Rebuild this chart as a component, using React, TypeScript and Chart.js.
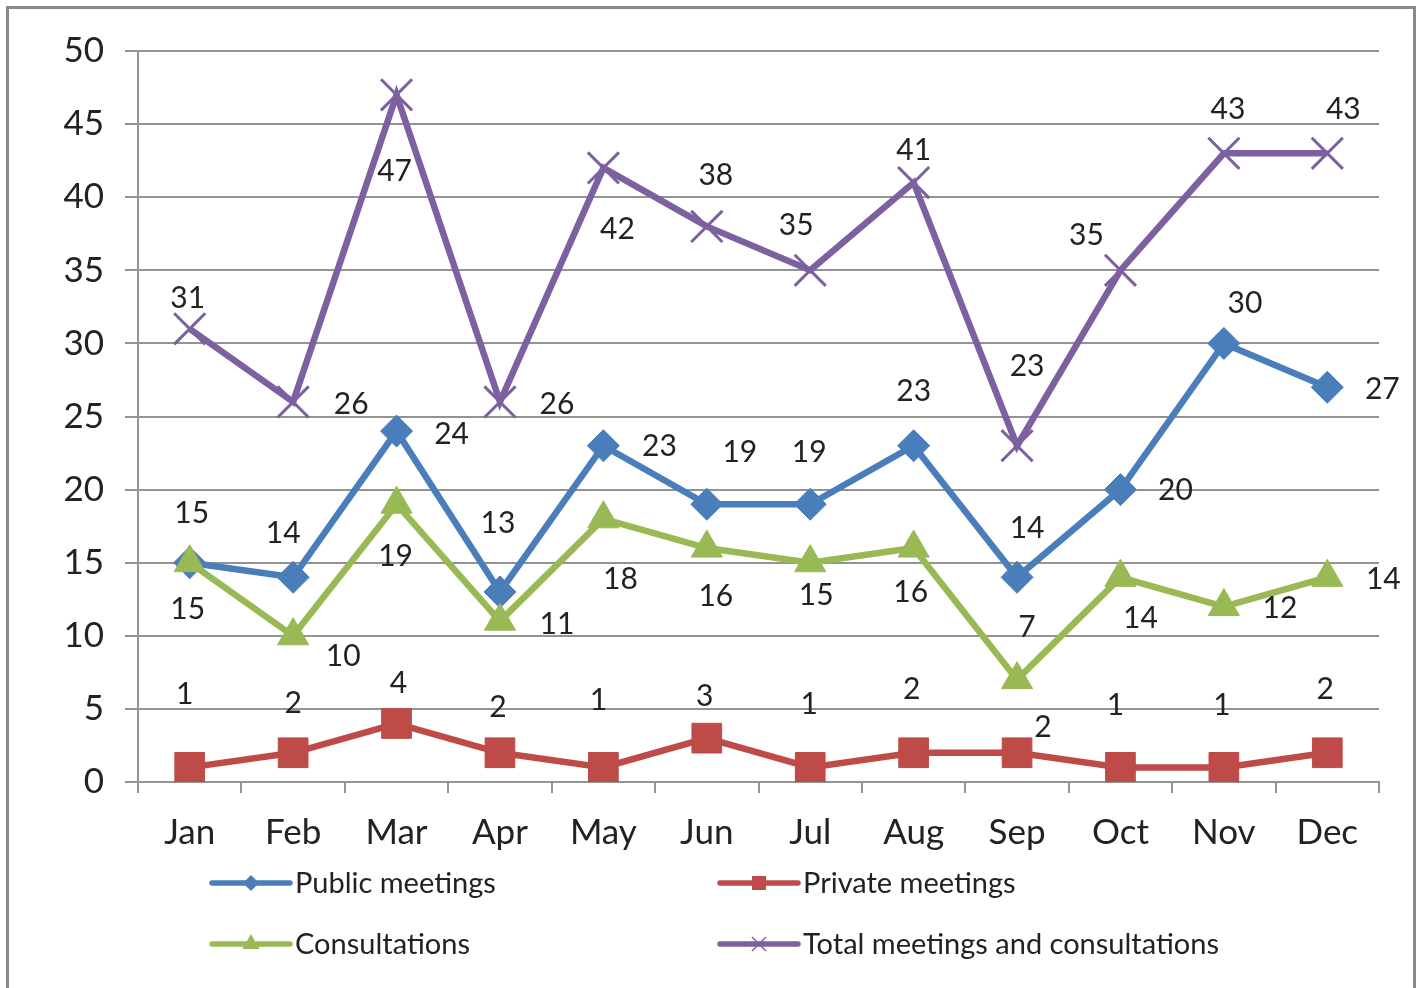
import React, { useEffect, useRef } from 'react';
import { Chart, registerables } from 'chart.js';

Chart.register(...registerables);

const months = ['Jan', 'Feb', 'Mar', 'Apr', 'May', 'Jun', 'Jul', 'Aug', 'Sep', 'Oct', 'Nov', 'Dec'];
const publicMeetings = [15, 14, 24, 13, 23, 19, 19, 23, 14, 20, 30, 27];
const privateMeetings = [1, 2, 4, 2, 1, 3, 1, 2, 2, 1, 1, 2];
const consultations = [15, 10, 19, 11, 18, 16, 15, 16, 7, 14, 12, 14];
const totals = [31, 26, 47, 26, 42, 38, 35, 41, 23, 35, 43, 43];

const seriesNames = ['Public meetings', 'Private meetings', 'Consultations', 'Total meetings and consultations'];
const seriesColors = ['#4A7EBB', '#BE4B48', '#98B954', '#7D60A0'];

// data-label placement relative to each point (pixels, dx / dy)
const publicLabelOffsets = [[2, -49], [-10, -44], [55, 3], [-2, -69], [56, 1], [33, -52], [-1, -52], [0, -54], [10, -49], [55, 1], [21, -40], [55, 2]];
const privateLabelOffsets = [[-5, -73], [0, -49], [2, -40], [-2, -45], [-5, -67], [-2, -42], [-1, -63], [-2, -63], [26, -25], [-5, -62], [-2, -62], [-2, -63]];
const consultLabelOffsets = [[-2, 47], [50, 21], [-1, 52], [57, 3], [17, 60], [9, 48], [6, 33], [-3, 44], [10, -52], [20, 41], [56, 2], [56, 2]];
const totalLabelOffsets = [[-2, -30], [58, 2], [-2, 76], [57, 2], [14, 61], [9, -51], [-14, -45], [0, -32], [10, -79], [-34, -35], [4, -44], [16, -44]];
const labelOffsets = [publicLabelOffsets, privateLabelOffsets, consultLabelOffsets, totalLabelOffsets];

const FONT = 'Lato, "Open Sans", sans-serif';
const TEXT = '#222222';
const GRID = '#939393';

const frame = {
  id: 'frame',
  beforeDraw(chart: any) {
    const ctx = chart.ctx;
    ctx.save();
    ctx.fillStyle = '#ffffff';
    ctx.fillRect(0, 0, chart.width, chart.height);
    ctx.strokeStyle = '#8a8a8a';
    ctx.lineWidth = 3;
    ctx.strokeRect(7.5, 7.5, 1407, 1010);
    ctx.restore();
  },
};

const dataLabels = {
  id: 'dataLabels',
  afterDatasetsDraw(chart: any) {
    const ctx = chart.ctx;
    ctx.save();
    ctx.font = `30px ${FONT}`;
    ctx.fillStyle = TEXT;
    ctx.textAlign = 'center';
    ctx.textBaseline = 'middle';
    chart.data.datasets.forEach((ds: any, di: number) => {
      const meta = chart.getDatasetMeta(di);
      const offs = labelOffsets[di];
      meta.data.forEach((pt: any, i: number) => {
        ctx.fillText(String(ds.data[i]), pt.x + offs[i][0], pt.y + offs[i][1]);
      });
    });
    ctx.restore();
  },
};

function legendMarker(ctx: CanvasRenderingContext2D, kind: number, x: number, y: number) {
  ctx.beginPath();
  if (kind === 0) {
    const r = 8;
    ctx.moveTo(x - r, y);
    ctx.lineTo(x, y - r);
    ctx.lineTo(x + r, y);
    ctx.lineTo(x, y + r);
    ctx.closePath();
    ctx.fill();
  } else if (kind === 1) {
    const s = 7;
    ctx.rect(x - s, y - s, 2 * s, 2 * s);
    ctx.fill();
  } else if (kind === 2) {
    const r = 10;
    ctx.moveTo(x, y - r);
    ctx.lineTo(x + r * 0.866, y + r * 0.5);
    ctx.lineTo(x - r * 0.866, y + r * 0.5);
    ctx.closePath();
    ctx.fill();
  } else {
    const d = 7;
    ctx.lineWidth = 1.5;
    ctx.moveTo(x - d, y - d);
    ctx.lineTo(x + d, y + d);
    ctx.moveTo(x + d, y - d);
    ctx.lineTo(x - d, y + d);
    ctx.stroke();
  }
}

const legendPlugin = {
  id: 'customLegend',
  afterDraw(chart: any) {
    const ctx = chart.ctx;
    const spots = [
      { x: 212, y: 883 },
      { x: 720, y: 883 },
      { x: 212, y: 944 },
      { x: 720, y: 944 },
    ];
    ctx.save();
    spots.forEach((s, i) => {
      const color = seriesColors[i];
      ctx.strokeStyle = color;
      ctx.lineWidth = 5.5;
      ctx.lineCap = 'round';
      ctx.beginPath();
      ctx.moveTo(s.x, s.y);
      ctx.lineTo(s.x + 78, s.y);
      ctx.stroke();
      ctx.lineCap = 'butt';
      ctx.fillStyle = color;
      legendMarker(ctx, i, s.x + 39, s.y);
      ctx.fillStyle = TEXT;
      ctx.font = `29px ${FONT}`;
      ctx.textAlign = 'left';
      ctx.textBaseline = 'middle';
      ctx.fillText(seriesNames[i], s.x + 83, s.y + 1);
    });
    ctx.restore();
  },
};

export default function App() {
  const ref = useRef<HTMLCanvasElement>(null);

  useEffect(() => {
    const canvas = ref.current!;
    const mk = (label: string, data: number[], color: string, style: string, radius: number, order: number, bw: number) => ({
      label,
      data,
      borderColor: color,
      backgroundColor: color,
      borderWidth: 6.5,
      pointStyle: style,
      pointRadius: radius,
      pointHoverRadius: radius,
      pointBackgroundColor: color,
      pointBorderColor: color,
      pointBorderWidth: bw,
      tension: 0,
      order,
    });
    const chart = new Chart(canvas, {
      type: 'line',
      data: {
        labels: months,
        datasets: [
          mk(seriesNames[0], publicMeetings, seriesColors[0], 'rectRot', 16, 4, 1),
          mk(seriesNames[1], privateMeetings, seriesColors[1], 'rect', 21, 3, 1),
          mk(seriesNames[2], consultations, seriesColors[2], 'triangle', 18, 2, 1),
          mk(seriesNames[3], totals, seriesColors[3], 'crossRot', 22, 1, 3),
        ],
      },
      options: {
        responsive: false,
        animation: false,
        layout: { padding: { top: 51, right: 43, bottom: 0, left: 0 } },
        plugins: {
          legend: { display: false },
          tooltip: { enabled: false },
        },
        scales: {
          x: {
            offset: true,
            grid: {
              display: true,
              drawOnChartArea: false,
              drawTicks: true,
              tickLength: 11,
              color: GRID,
              lineWidth: 2,
              offset: true,
            },
            border: { display: true, color: GRID, width: 2 },
            ticks: {
              font: { family: FONT, size: 35 },
              color: TEXT,
              padding: 19,
              maxRotation: 0,
              autoSkip: false,
            },
            afterFit(scale: any) {
              scale.height = 206;
            },
          },
          y: {
            min: 0,
            max: 50,
            grid: {
              color: GRID,
              lineWidth: 2,
              tickLength: 13,
              drawTicks: true,
            },
            border: { display: true, color: GRID, width: 2 },
            ticks: {
              stepSize: 5,
              font: { family: FONT, size: 35 },
              color: TEXT,
              padding: 21,
            },
            afterFit(scale: any) {
              scale.width = 138;
            },
          },
        },
      },
      plugins: [frame, dataLabels, legendPlugin],
    } as any);
    return () => chart.destroy();
  }, []);

  return (
    <div style={{ position: 'fixed', left: 0, top: 0, width: 1422, height: 988, overflow: 'hidden', background: '#fff' }}>
      <canvas ref={ref} width={1422} height={988} style={{ display: 'block', width: 1422, height: 988 }} />
    </div>
  );
}
